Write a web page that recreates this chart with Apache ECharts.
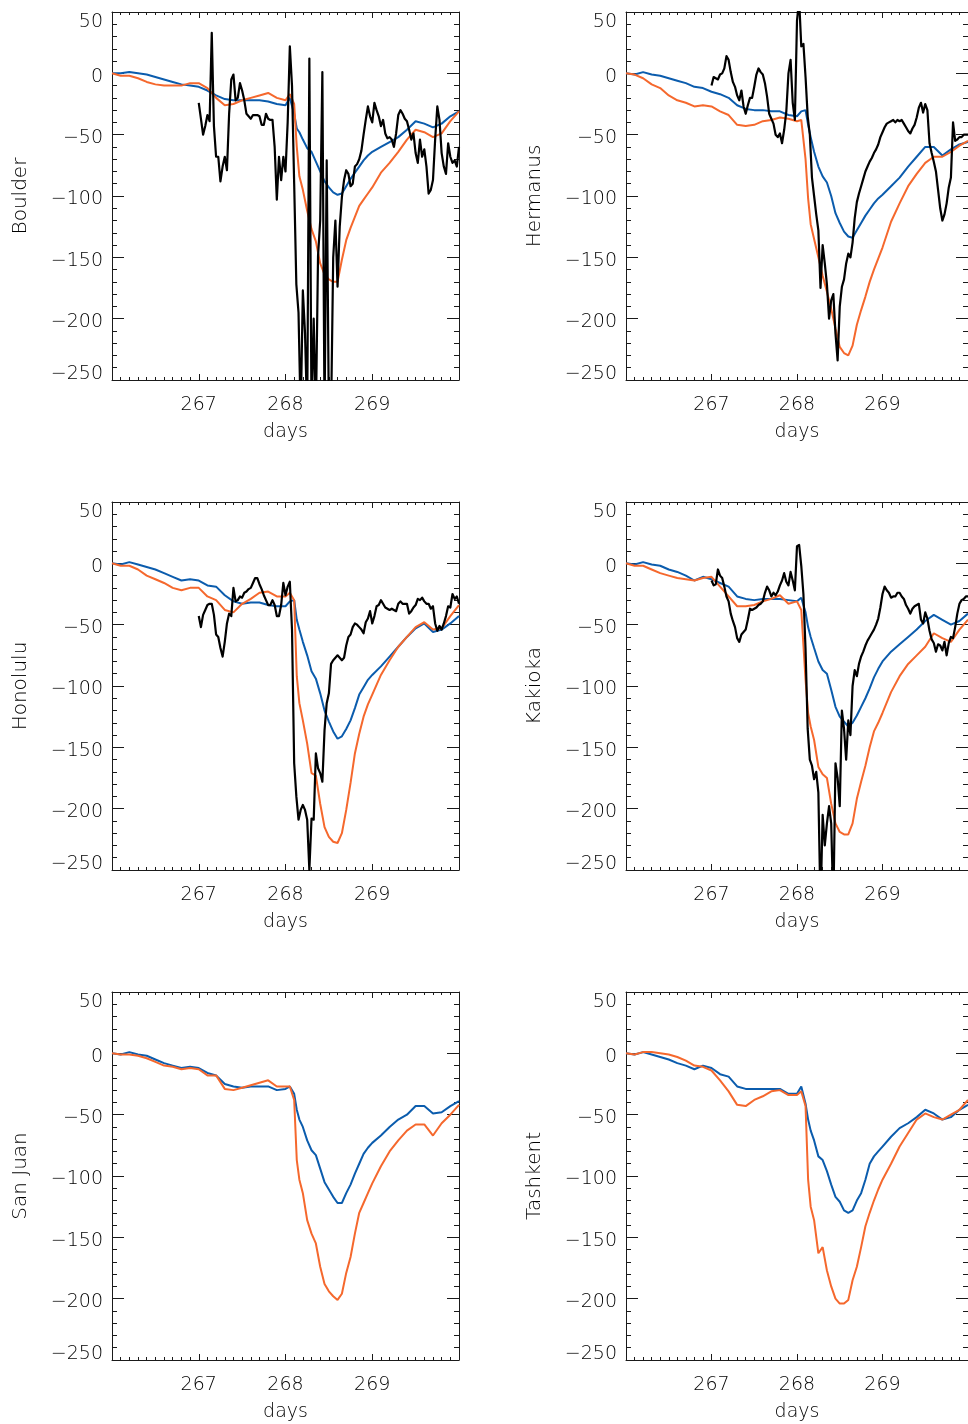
<!DOCTYPE html>
<html><head><meta charset="utf-8">
<script src="https://cdn.jsdelivr.net/npm/echarts@6.0.0/dist/echarts.min.js"></script>
<style>html,body{margin:0;padding:0;background:#fff}#c{width:968px;height:1424px}</style>
</head><body><div id="c"></div>
<script>
const stations = ['Boulder', 'Hermanus', 'Honolulu', 'Kakioka', 'San Juan', 'Tashkent'];
const xTickLabels = ['267', '268', '269'];
const xName = 'days';

const modelDays = [266.0,266.1,266.2,266.3,266.4,266.5,266.6,266.7,266.8,266.9,
  267.0,267.1,267.2,267.3,267.4,267.5,267.6,267.7,267.8,267.9,
  268.0,268.05,268.1,268.13,268.16,268.2,268.25,268.3,268.35,268.4,
  268.45,268.5,268.55,268.6,268.65,268.7,268.75,268.8,268.85,268.9,
  268.95,269.0,269.1,269.2,269.3,269.4,269.5,269.6,269.7,269.8,
  269.9,270.0];

const blackStartDay = 267.0;
const blackStepDay = 0.025;

const boulderBlue = [0,0,1,0,-1,-3,-5,-7,-9,-10,
  -11,-14,-18,-21,-22,-22,-22,-22,-23,-25,
  -26,-20,-33,-45,-48,-54,-61,-64,-72,-80,
  -88,-93,-97,-99,-98,-92,-86,-81,-76,-71,
  -67,-64,-60,-56,-52,-46,-39,-41,-44,-41,
  -35,-31];
const boulderOrange = [0,-2,-2,-4,-7,-9,-10,-10,-10,-8,
  -8,-12,-20,-26,-25,-22,-20,-18,-16,-20,
  -22,-17,-25,-60,-84,-95,-112,-127,-137,-155,
  -164,-168,-170,-170,-152,-136,-126,-117,-108,-103,
  -98,-93,-81,-73,-64,-54,-46,-48,-52,-49,
  -39,-31];
const boulderObs = [-24,-37,-50,-43,-34,-39,33,-43,-68,-68,
  -88,-76,-68,-79,-33,-5,-1,-22,-20,-8,
  -14,-22,-33,-35,-37,-34,-34,-34,-35,-42,
  -42,-33,-37,-38,-38,-60,-103,-68,-87,-68,
  -80,-40,22,-10,-90,-172,-195,-280,-177,-212,
  -280,12,-280,-200,-280,-149,-120,1,-280,-71,
  -280,-280,-150,-120,-174,-125,-101,-87,-79,-82,
  -92,-90,-76,-74,-70,-63,-50,-38,-27,-35,
  -40,-24,-30,-35,-43,-38,-49,-53,-52,-54,
  -60,-49,-34,-30,-33,-37,-39,-46,-54,-49,
  -65,-73,-54,-68,-62,-76,-98,-95,-87,-54,
  -27,-38,-65,-76,-82,-57,-68,-73,-71,-76,
  -60];

const hermanusBlue = [0,-1,1,-1,-2,-4,-6,-8,-11,-12,
  -15,-17,-20,-26,-29,-30,-30,-31,-31,-34,
  -35,-31,-30,-42,-52,-64,-76,-84,-89,-100,
  -114,-122,-129,-133,-134,-128,-122,-116,-111,-106,
  -102,-99,-92,-85,-76,-68,-60,-60,-67,-62,
  -58,-56];
const hermanusOrange = [0,-1,-4,-9,-12,-18,-22,-24,-27,-26,
  -27,-31,-34,-42,-43,-42,-39,-38,-36,-37,
  -39,-38,-70,-102,-123,-135,-150,-165,-178,-192,
  -208,-223,-228,-230,-222,-205,-193,-182,-170,-160,
  -151,-142,-121,-106,-92,-82,-73,-68,-68,-64,
  -59,-55];
const hermanusObs = [-10,-3,-4,-5,-1,0,4,14,11,1,
  -7,-11,-18,-22,-14,-27,-33,-26,-20,-20,
  -11,-1,4,1,-1,-8,-19,-33,-37,-41,
  -50,-52,-49,-57,-46,-31,0,11,-24,-38,
  43,60,22,24,-3,-35,-50,-85,-100,-115,
  -128,-175,-140,-155,-172,-200,-185,-180,-212,-234,
  -190,-174,-168,-155,-147,-150,-138,-118,-105,-98,
  -92,-86,-80,-76,-72,-69,-65,-62,-58,-52,
  -48,-44,-41,-40,-39,-38,-40,-38,-39,-38,
  -41,-44,-47,-49,-45,-42,-36,-28,-24,-32,
  -25,-30,-57,-65,-72,-80,-95,-110,-120,-115,
  -106,-93,-85,-40,-55,-54,-52,-52,-50,-50,
  -50];

const honoluluBlue = [0,-1,1,-1,-3,-5,-8,-11,-14,-13,
  -14,-18,-19,-26,-31,-33,-32,-32,-34,-35,
  -35,-31,-30,-46,-54,-64,-75,-88,-94,-106,
  -120,-129,-137,-143,-141,-135,-128,-118,-107,-101,
  -95,-91,-84,-76,-68,-60,-53,-49,-56,-54,
  -49,-43];
const honoluluOrange = [0,-2,-2,-5,-10,-13,-16,-20,-22,-20,
  -20,-27,-30,-38,-40,-33,-29,-24,-23,-27,
  -27,-24,-30,-92,-114,-128,-147,-171,-173,-196,
  -215,-223,-227,-228,-220,-201,-179,-155,-139,-125,
  -115,-107,-91,-79,-68,-60,-52,-48,-54,-53,
  -43,-34];
const honoluluObs = [-43,-52,-42,-38,-34,-33,-33,-42,-58,-60,
  -69,-76,-64,-49,-41,-43,-20,-31,-30,-27,
  -28,-24,-23,-21,-20,-16,-12,-12,-17,-21,
  -26,-30,-34,-34,-30,-34,-43,-43,-34,-16,
  -26,-19,-15,-54,-163,-190,-209,-201,-197,-201,
  -209,-250,-208,-209,-155,-167,-171,-178,-136,-114,
  -106,-82,-79,-77,-75,-77,-79,-77,-67,-60,
  -58,-52,-49,-50,-52,-54,-57,-48,-45,-39,
  -49,-43,-35,-34,-30,-33,-36,-37,-38,-37,
  -38,-39,-33,-31,-33,-33,-33,-41,-39,-36,
  -34,-29,-30,-28,-31,-33,-33,-37,-35,-49,
  -55,-51,-54,-49,-43,-35,-36,-25,-29,-27,
  -33];

const kakiokaBlue = [0,-1,1,-1,-2,-5,-7,-10,-14,-11,
  -13,-16,-19,-27,-29,-30,-29,-29,-29,-30,
  -31,-28,-40,-52,-60,-69,-80,-87,-90,-103,
  -117,-125,-129,-133,-130,-124,-117,-110,-102,-93,
  -86,-80,-72,-66,-60,-54,-47,-42,-46,-50,
  -47,-41];
const kakiokaOrange = [0,-2,-2,-5,-8,-10,-12,-13,-14,-12,
  -11,-19,-27,-35,-35,-34,-31,-29,-26,-33,
  -31,-38,-95,-122,-133,-144,-166,-172,-175,-196,
  -212,-219,-221,-221,-212,-192,-178,-165,-150,-137,
  -130,-122,-105,-92,-82,-75,-68,-57,-61,-64,
  -54,-46];
const kakiokaObs = [-14,-18,-17,-5,-10,-12,-19,-27,-31,-41,
  -47,-52,-61,-64,-58,-56,-54,-46,-37,-38,
  -37,-36,-34,-33,-31,-24,-19,-22,-27,-24,
  -26,-23,-18,-14,-8,-15,-18,-7,-14,-22,
  14,15,-2,-25,-70,-135,-160,-165,-176,-170,
  -187,-280,-205,-230,-212,-198,-212,-280,-163,-175,
  -198,-120,-135,-160,-128,-140,-100,-87,-92,-82,
  -76,-72,-67,-63,-60,-57,-54,-50,-45,-36,
  -25,-19,-22,-24,-28,-27,-27,-24,-24,-27,
  -29,-34,-37,-41,-37,-35,-34,-33,-46,-49,
  -40,-45,-55,-62,-65,-72,-66,-67,-71,-64,
  -75,-65,-60,-61,-52,-41,-33,-30,-29,-27,
  -27];

const sanJuanBlue = [0,-1,1,-1,-2,-5,-8,-10,-12,-11,
  -12,-16,-18,-25,-27,-28,-27,-27,-27,-30,
  -29,-27,-33,-46,-54,-60,-71,-79,-83,-94,
  -105,-111,-117,-122,-122,-114,-107,-98,-90,-82,
  -77,-73,-67,-60,-54,-50,-43,-43,-49,-48,
  -43,-39];
const sanJuanOrange = [0,-1,-1,-2,-4,-7,-10,-11,-13,-12,
  -13,-18,-18,-29,-30,-28,-26,-24,-22,-27,
  -27,-27,-38,-87,-103,-114,-136,-147,-155,-174,
  -188,-194,-198,-201,-196,-179,-166,-147,-130,-122,
  -114,-106,-92,-80,-71,-63,-58,-58,-67,-57,
  -50,-42];

const tashkentBlue = [0,-1,1,-1,-3,-5,-8,-10,-13,-10,
  -12,-17,-19,-27,-29,-29,-29,-29,-29,-33,
  -33,-27,-41,-54,-63,-71,-84,-87,-96,-107,
  -117,-121,-128,-130,-128,-120,-114,-103,-90,-84,
  -80,-76,-68,-61,-57,-52,-46,-49,-54,-52,
  -46,-42];
const tashkentOrange = [0,-1,1,1,0,-1,-3,-6,-10,-11,
  -14,-22,-31,-42,-43,-38,-35,-31,-30,-34,
  -34,-31,-43,-103,-125,-136,-163,-158,-177,-190,
  -200,-204,-204,-201,-185,-174,-158,-141,-130,-120,
  -111,-103,-90,-76,-65,-54,-49,-52,-54,-50,
  -46,-38];

const blueSeries = [boulderBlue, hermanusBlue, honoluluBlue, kakiokaBlue, sanJuanBlue, tashkentBlue];
const orangeSeries = [boulderOrange, hermanusOrange, honoluluOrange, kakiokaOrange, sanJuanOrange, tashkentOrange];
const obsSeries = [boulderObs, hermanusObs, honoluluObs, kakiokaObs, null, null];

const FONT = 'DejaVu Sans';
const TXT = '#000000';
const AX = '#1a1a1a';
const BLUE = '#0b5cad';
const ORANGE = '#f5682d';
const Y_MIN = -250, Y_MAX = 50;

const grids = [], xAxes = [], yAxes = [], series = [];
const lefts = [112, 626];
const tops = [12, 502, 992];

const labelFont = { fontFamily: FONT, fontSize: 19, fontWeight: 200, color: TXT };
function fmtY(v) {
  const s = v < 0 ? '\u2212' + Math.abs(v) : String(v);
  const key = v === Y_MAX ? 't' : (v === Y_MIN ? 'b' : 'n');
  return '{' + key + '|' + s + '}';
}
function fmtX(v) { const s = String(Math.round(v)); return xTickLabels.indexOf(s) >= 0 ? s : ''; }

stations.forEach((name, i) => {
  const row = Math.floor(i / 2), col = i % 2;
  grids.push({ left: lefts[col], top: tops[row], width: 347, height: 368, containLabel: false });
  const xBase = {
    gridIndex: i, type: 'value', min: 266, max: 270, interval: 1,
    axisLine: { show: true, onZero: false, lineStyle: { color: AX, width: 1 } },
    axisTick: { show: true, inside: true, length: 6, lineStyle: { color: AX, width: 1 } },
    minorTick: { show: true, splitNumber: 10, length: 3, lineStyle: { color: AX, width: 1 } },
    splitLine: { show: false }, minorSplitLine: { show: false }
  };
  xAxes.push(Object.assign({}, xBase, {
    position: 'bottom',
    axisLabel: Object.assign({ show: true, margin: 16, showMinLabel: false, showMaxLabel: false, formatter: fmtX }, labelFont),
    name: xName, nameLocation: 'middle', nameGap: 43,
    nameTextStyle: Object.assign({}, labelFont)
  }));
  xAxes.push(Object.assign({}, xBase, { position: 'top', axisLabel: { show: false } }));
  const yBase = {
    gridIndex: i, type: 'value', min: Y_MIN, max: Y_MAX, interval: 50,
    axisLine: { show: true, onZero: false, lineStyle: { color: AX, width: 1 } },
    axisTick: { show: true, inside: true, length: 12, lineStyle: { color: AX, width: 1 } },
    minorTick: { show: true, splitNumber: 5, length: 5, lineStyle: { color: AX, width: 1 } },
    splitLine: { show: false }, minorSplitLine: { show: false }
  };
  yAxes.push(Object.assign({}, yBase, {
    position: 'left',
    axisLabel: Object.assign({ show: true, margin: 9, formatter: fmtY,
      rich: {
        n: Object.assign({ padding: [7, 0, 0, 0] }, labelFont),
        t: Object.assign({ padding: [20, 0, 0, 0] }, labelFont),
        b: Object.assign({ padding: [0, 0, 12, 0] }, labelFont)
      } }, labelFont),
    name: name, nameLocation: 'middle', nameGap: 81, nameRotate: 90,
    nameTextStyle: Object.assign({}, labelFont, { fontSize: 20 })
  }));
  yAxes.push(Object.assign({}, yBase, { position: 'right', axisLabel: { show: false } }));

  const xi = i * 2, yi = i * 2;
  series.push({
    type: 'line', xAxisIndex: xi, yAxisIndex: yi, showSymbol: false, symbol: 'none',
    lineStyle: { color: BLUE, width: 2 }, color: BLUE, z: 2,
    data: modelDays.map((d, k) => [d, blueSeries[i][k]])
  });
  series.push({
    type: 'line', xAxisIndex: xi, yAxisIndex: yi, showSymbol: false, symbol: 'none',
    lineStyle: { color: ORANGE, width: 2 }, color: ORANGE, z: 3,
    data: modelDays.map((d, k) => [d, orangeSeries[i][k]])
  });
  if (obsSeries[i]) {
    series.push({
      type: 'line', xAxisIndex: xi, yAxisIndex: yi, showSymbol: false, symbol: 'none',
      lineStyle: { color: '#000', width: 2.2, join: 'round' }, color: '#000', z: 4,
      data: obsSeries[i].map((v, k) => [+(blackStartDay + k * blackStepDay).toFixed(3), v])
    });
  }
});

const chart = echarts.init(document.getElementById('c'), null, { renderer: 'canvas' });
chart.setOption({
  animation: false,
  backgroundColor: '#ffffff',
  grid: grids, xAxis: xAxes, yAxis: yAxes, series: series
});
</script></body></html>
